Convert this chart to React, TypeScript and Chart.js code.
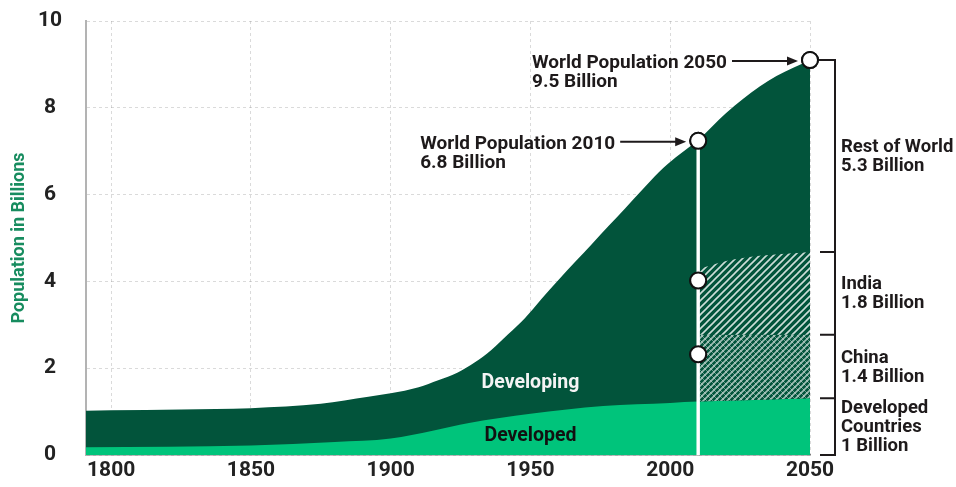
import React, { useEffect, useRef } from "react";
import { Chart, registerables } from "chart.js";

Chart.register(...registerables);

// ---- data ----
const worldYears = [1791, 1800, 1825, 1850, 1875, 1892, 1900, 1910, 1917, 1924, 1930, 1936, 1942, 1948, 1954, 1960, 1966, 1972, 1978, 1984, 1990, 1996, 2002, 2010, 2020, 2026, 2032, 2038, 2044, 2050];
const worldValues = [1.02, 1.03, 1.05, 1.08, 1.18, 1.34, 1.42, 1.56, 1.72, 1.9, 2.13, 2.42, 2.78, 3.15, 3.6, 4.03, 4.45, 4.86, 5.28, 5.69, 6.11, 6.52, 6.86, 7.26, 7.88, 8.2, 8.49, 8.73, 8.92, 9.1];

const developedYears = [1791, 1850, 1880, 1900, 1915, 1928, 1950, 1976, 2000, 2010, 2050];
const developedValues = [0.18, 0.22, 0.3, 0.38, 0.56, 0.74, 0.95, 1.13, 1.2, 1.23, 1.31];

const chinaYears = [2010, 2050];
const chinaValues = [2.77, 2.77];

const indiaYears = [2010, 2020, 2032, 2050];
const indiaValues = [4.28, 4.47, 4.59, 4.68];

const circleYears = [2010, 2010, 2010, 2050];
const circleValues = [7.24, 4.02, 2.32, 9.1];

const xTicks = [1800, 1850, 1900, 1950, 2000, 2050];
const yTitle = "Population in Billions";

const worldNotes = [
  ["World Population 2010", "6.8 Billion"],
  ["World Population 2050", "9.5 Billion"],
];
const bracketLabels = [
  ["Rest of World", "5.3 Billion"],
  ["India", "1.8 Billion"],
  ["China", "1.4 Billion"],
  ["Developed", "Countries", "1 Billion"],
];
const areaLabels = ["Developing", "Developed"];

// ---- styles ----
const DARK = "#02543b";
const LIGHT = "#00c47b";
const TEXT = "#1e1a1b";
const GRID = "rgba(140,140,140,0.32)";
const FONT = "Roboto";

const pts = (xs: number[], ys: number[]) => xs.map((x, i) => ({ x, y: ys[i] }));

function makePattern(ctx: CanvasRenderingContext2D, size: number, fwdAlpha: number, backAlpha: number) {
  const c = document.createElement("canvas");
  c.width = size;
  c.height = size;
  const g = c.getContext("2d")!;
  g.fillStyle = DARK;
  g.fillRect(0, 0, size, size);
  g.lineWidth = 1.6;
  g.strokeStyle = `rgba(255,255,255,${fwdAlpha})`;
  g.beginPath();
  g.moveTo(-1, size + 1);
  g.lineTo(size + 1, -1);
  g.moveTo(-1, 1);
  g.lineTo(1, -1);
  g.moveTo(size - 1, size + 1);
  g.lineTo(size + 1, size - 1);
  g.stroke();
  if (backAlpha > 0) {
    g.strokeStyle = `rgba(255,255,255,${backAlpha})`;
    g.lineWidth = 1;
    g.beginPath();
    g.moveTo(-1, -1);
    g.lineTo(size + 1, size + 1);
    g.stroke();
  }
  return ctx.createPattern(c, "repeat")!;
}

const annotPlugin = {
  id: "annot",
  afterDraw(chart: any) {
    const ctx: CanvasRenderingContext2D = chart.ctx;
    chart.getDatasetMeta(4).controller.draw();
    chart.getDatasetMeta(5).controller.draw();

    const xs = chart.scales.x;
    const ys = chart.scales.y;
    ctx.save();
    ctx.fillStyle = TEXT;
    ctx.strokeStyle = TEXT;
    ctx.textBaseline = "middle";
    ctx.textAlign = "left";

    ctx.font = `bold 19px ${FONT}`;
    const noteIdx = [0, 3];
    noteIdx.forEach((ci, k) => {
      const cx = xs.getPixelForValue(circleYears[ci]);
      const cy = ys.getPixelForValue(circleValues[ci]);
      const ay = cy + 1;
      ctx.lineWidth = 2;
      ctx.beginPath();
      ctx.moveTo(cx - 78, ay);
      ctx.lineTo(cx - 20, ay);
      ctx.stroke();
      ctx.beginPath();
      ctx.moveTo(cx - 12, ay);
      ctx.lineTo(cx - 23, ay - 4.5);
      ctx.lineTo(cx - 23, ay + 4.5);
      ctx.closePath();
      ctx.fill();
      const lines = worldNotes[k];
      const w = ctx.measureText(lines[0]).width;
      const left = cx - 83 - w;
      ctx.fillText(lines[0], left, cy + 3);
      ctx.fillText(lines[1], left, cy + 22);
    });

    ctx.font = `bold 18.5px ${FONT}`;
    const c50x = xs.getPixelForValue(circleYears[3]);
    const c50y = ys.getPixelForValue(circleValues[3]);
    const bx = c50x + 25;
    const bounds = [
      circleValues[3],
      indiaValues[indiaValues.length - 1],
      chinaValues[chinaValues.length - 1],
      developedValues[developedValues.length - 1],
      0,
    ].map((v) => ys.getPixelForValue(v));
    ctx.lineWidth = 2;
    ctx.beginPath();
    ctx.moveTo(c50x + 9, c50y);
    ctx.lineTo(bx, c50y);
    ctx.moveTo(bx, c50y - 1);
    ctx.lineTo(bx, bounds[4] + 1);
    for (let i = 1; i < bounds.length; i++) {
      ctx.moveTo(bx - 15, bounds[i]);
      ctx.lineTo(bx + 1, bounds[i]);
    }
    ctx.stroke();

    const lh = 19;
    bracketLabels.forEach((lines, i) => {
      const mid = (bounds[i] + bounds[i + 1]) / 2;
      const top = mid - ((lines.length - 1) * lh) / 2 + 1;
      lines.forEach((t, j) => ctx.fillText(t, bx + 6, top + j * lh));
    });

    ctx.textAlign = "center";
    ctx.font = `bold 19.5px ${FONT}`;
    ctx.fillStyle = "#f4f4f4";
    ctx.fillText(areaLabels[0], xs.getPixelForValue(1950), ys.getPixelForValue(1.66));
    ctx.fillStyle = "#111";
    ctx.fillText(areaLabels[1], xs.getPixelForValue(1950), ys.getPixelForValue(0.44));
    ctx.restore();
  },
};

export default function App() {
  const ref = useRef<HTMLCanvasElement | null>(null);

  useEffect(() => {
    const canvas = ref.current!;
    const ctx = canvas.getContext("2d")!;
    const indiaPattern = makePattern(ctx, 7, 0.8, 0);
    const chinaPattern = makePattern(ctx, 6, 0.62, 0.38);

    const area = (color: any, fill: any, order: number) => ({
      backgroundColor: color,
      borderColor: "rgba(0,0,0,0)",
      borderWidth: 0,
      pointRadius: 0,
      pointHoverRadius: 0,
      cubicInterpolationMode: "monotone",
      fill,
      order,
    });

    const chart = new Chart(canvas, {
      type: "line",
      data: {
        datasets: [
          { label: "World", data: pts(worldYears, worldValues), ...area(DARK, "origin", 6) },
          { label: "Developed", data: pts(developedYears, developedValues), ...area(LIGHT, "origin", 5) },
          { label: "China", data: pts(chinaYears, chinaValues), ...area(chinaPattern, 1, 4) },
          { label: "India", data: pts(indiaYears, indiaValues), ...area(indiaPattern, 2, 3) },
          {
            label: "2010",
            data: [
              { x: circleYears[0], y: 0 },
              { x: circleYears[0], y: circleValues[0] },
            ],
            borderColor: "#ffffff",
            borderWidth: 3,
            pointRadius: 0,
            fill: false,
            order: 2,
          },
          {
            label: "Markers",
            data: pts(circleYears, circleValues),
            showLine: false,
            pointRadius: 8,
            pointHoverRadius: 8,
            pointBackgroundColor: "#ffffff",
            pointBorderColor: "#111111",
            pointBorderWidth: 2,
            clip: false,
            fill: false,
            order: 1,
          },
        ] as any,
      },
      options: {
        responsive: false,
        animation: false,
        events: [],
        layout: { padding: { left: 0, right: 146, top: 21, bottom: 0 } },
        plugins: { legend: { display: false }, tooltip: { enabled: false } },
        scales: {
          x: {
            type: "linear",
            min: 1791,
            max: 2050,
            z: 1,
            afterBuildTicks: (s: any) => {
              s.ticks = xTicks.map((v) => ({ value: v }));
            },
            afterFit: (s: any) => {
              s.height = 32;
            },
            ticks: {
              callback: (v: any) => String(v),
              font: { family: FONT, weight: "bold", size: 21 },
              color: "#222",
              padding: 3,
              maxRotation: 0,
              autoSkip: false,
            },
            grid: { color: GRID, drawTicks: false, lineWidth: 1 },
            border: { display: true, color: "#7d7d7d", width: 1.5, dash: [3, 3] },
          },
          y: {
            min: 0,
            max: 10,
            z: 1,
            afterFit: (s: any) => {
              s.width = 86;
              s.paddingTop = 0;
              s.paddingBottom = 0;
            },
            ticks: {
              stepSize: 2,
              font: { family: FONT, weight: "bold", size: 21 },
              color: "#222",
              crossAlign: "center",
              padding: 24,
            },
            grid: { color: GRID, drawTicks: false, lineWidth: 1 },
            border: { display: true, color: "#b3b3b3", width: 2, dash: [3, 3] },
            title: {
              display: true,
              text: yTitle,
              color: "#178c5f",
              font: { family: FONT, weight: "bold", size: 18 },
              padding: { top: 9, bottom: 0 },
            },
          },
        },
      } as any,
      plugins: [annotPlugin],
    });
    return () => chart.destroy();
  }, []);

  return (
    <div style={{ position: "fixed", left: 0, top: 0, width: 956, height: 487, background: "#fff" }}>
      <canvas ref={ref} width={956} height={487} style={{ display: "block" }} />
    </div>
  );
}
